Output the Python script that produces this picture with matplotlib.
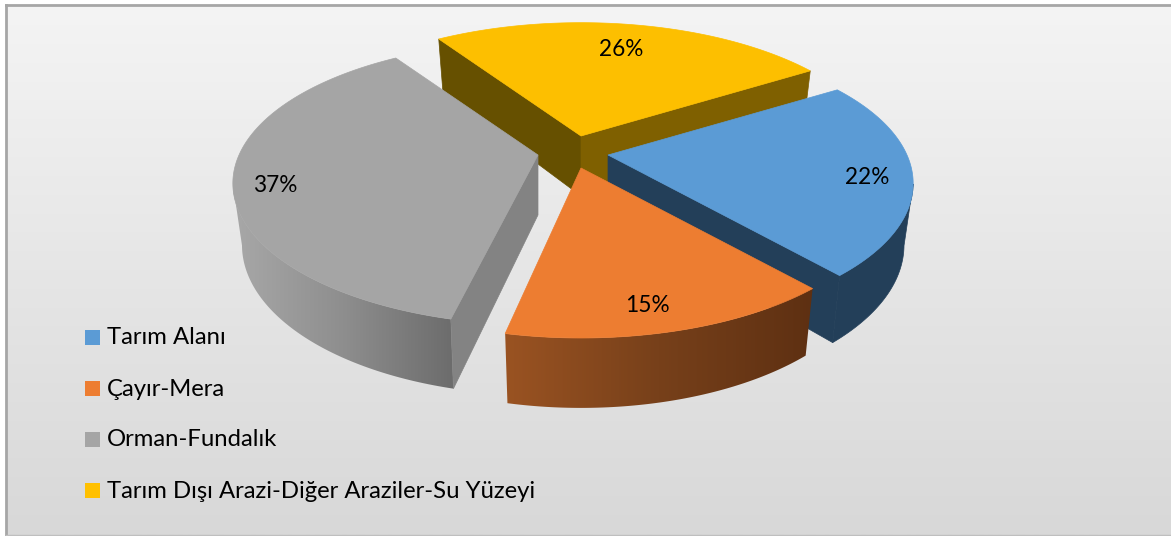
import numpy as np
import matplotlib
matplotlib.use('Agg')
import matplotlib.pyplot as plt
from matplotlib.patches import Polygon, Rectangle

plt.rcParams['font.family'] = ['Lato', 'DejaVu Sans']

# chart data
categories = ['Tarım Alanı', 'Çayır-Mera', 'Orman-Fundalık',
              'Tarım Dışı Arazi-Diğer Araziler-Su Yüzeyi']
values = [22, 15, 37, 26]
top_colors = ['#5B9BD5', '#ED7D31', '#A5A5A5', '#FFC000']

# look of the 3D pie, everything in pixels of the picture
W, H = 1171, 536
apexes = [(608, 155), (581, 168), (538, 155), (581, 136)]
label_pos = [(867, 177), (647, 305), (275, 185), (621, 49)]
start_angle = -32.0
RX, RY, PERSP = 299.0, 136.0, 0.2
DEPTH = 60.0
SHRINK = 0.97
# small angle bend seen in the 3D view of the original
BEND = 2.6
# the exploded front slice looks a bit narrower in the original
end_trim = [0, 1.8, 0, 0]


def project(apex, ang, r=1.0, low=False):
    """Screen position of a point on the pie disc, angle clockwise from the right."""
    a = ang + BEND * np.sin(np.radians(ang - start_angle) / 2)
    u = r * np.cos(np.radians(a))
    v = r * np.sin(np.radians(a))
    s = 1.0 / (1.0 - PERSP * v)
    x = RX * u * s
    y = RY * v * s
    if low:
        x = x * SHRINK
        y = y * SHRINK + DEPTH * s
    return apex[0] + x, apex[1] + y


def flat(ax, pts, color, z):
    ax.add_patch(Polygon(pts, closed=True, fc=color, ec=color, lw=0.5, zorder=z))


def gradient(ax, pts, stops, z):
    """Horizontal gradient clipped to a polygon."""
    pts = np.array(pts)
    x0, x1 = pts[:, 0].min(), pts[:, 0].max()
    y0, y1 = pts[:, 1].min(), pts[:, 1].max()
    cmap = matplotlib.colors.LinearSegmentedColormap.from_list('g', stops)
    im = ax.imshow(np.linspace(0, 1, 256)[None, :], cmap=cmap, aspect='auto',
                   extent=(x0, x1, y1, y0), zorder=z)
    patch = Polygon(pts, closed=True, transform=ax.transData)
    im.set_clip_path(patch)


fig = plt.figure(figsize=(W / 100, H / 100), dpi=100, facecolor='white')
ax = fig.add_axes([0, 0, 1, 1])

# background panel
bg = matplotlib.colors.LinearSegmentedColormap.from_list('bg', ['#F4F4F4', '#D8D8D8'])
ax.imshow(np.linspace(0, 1, 256)[:, None], cmap=bg, aspect='auto',
          extent=(6, W + 2, 535, 5), zorder=0)
ax.plot([6, 6], [535, 5], color='#A6A6A6', lw=2, zorder=1)
ax.plot([6, W], [5, 5], color='#A6A6A6', lw=2, zorder=1)
ax.plot([6, W], [535, 535], color='#BFBFBF', lw=1, zorder=1)

# angle range of each slice
edges = start_angle + np.cumsum([0] + values) * 3.6
spans = {i: (edges[i], edges[i + 1] - end_trim[i]) for i in range(len(values))}


def slice_parts(i):
    a0, a1 = spans[i]
    ang = np.linspace(a0, a1, 160)
    apex = apexes[i]
    top_arc = [project(apex, a) for a in ang]
    low_arc = [project(apex, a, low=True) for a in ang]
    ctop = (apex[0], apex[1])
    clow = (apex[0], apex[1] + DEPTH)
    return top_arc, low_arc, ctop, clow


# yellow slice (back)
top, low, c, cl = slice_parts(3)
flat(ax, [top[0], c, cl, low[0]], '#665000', 2)
flat(ax, [c, top[-1], low[-1], cl], '#7F6000', 2)
flat(ax, [c] + top, '#FDBF00', 3)

# grey slice, rim only up to its leftmost point
top, low, c, cl = slice_parts(2)
k = int(np.argmin([p[0] for p in top]))
gradient(ax, top[:k + 1] + low[:k + 1][::-1], ['#A8A8A8', '#8E8E8E', '#6C6C6C'], 4)
flat(ax, [c, top[0], low[0], cl], '#838383', 4.5)
flat(ax, [c] + top, top_colors[2], 5)

# blue slice, rim only from its rightmost point
top, low, c, cl = slice_parts(0)
k = int(np.argmax([p[0] for p in top]))
flat(ax, top[k:] + low[k:][::-1], '#233F59', 6)
flat(ax, [c, top[-1], low[-1], cl], '#233F59', 6)
flat(ax, [c] + top, top_colors[0], 7)

# orange slice (front)
top, low, c, cl = slice_parts(1)
gradient(ax, top + low[::-1], ['#9A5322', '#77401A', '#5E3012'], 8)
flat(ax, [c] + top, top_colors[1], 9)

# percentage labels
for v, (lx, ly) in zip(values, label_pos):
    ax.text(lx, ly, f'{v}%', fontsize=16.3, color='black', ha='center', va='center', zorder=20)

# legend
leg_y = [337, 388, 439, 490]
for name, col, y in zip(categories, top_colors, leg_y):
    ax.add_patch(Rectangle((85, y - 7.5), 15, 15, fc=col, ec='none', zorder=20))
    ax.text(107, y + 1, name, fontsize=17.2, color='black', ha='left', va='center', zorder=20)

ax.set_xlim(0, W)
ax.set_ylim(H, 0)
ax.axis('off')
fig.savefig('out.png', dpi=100)
